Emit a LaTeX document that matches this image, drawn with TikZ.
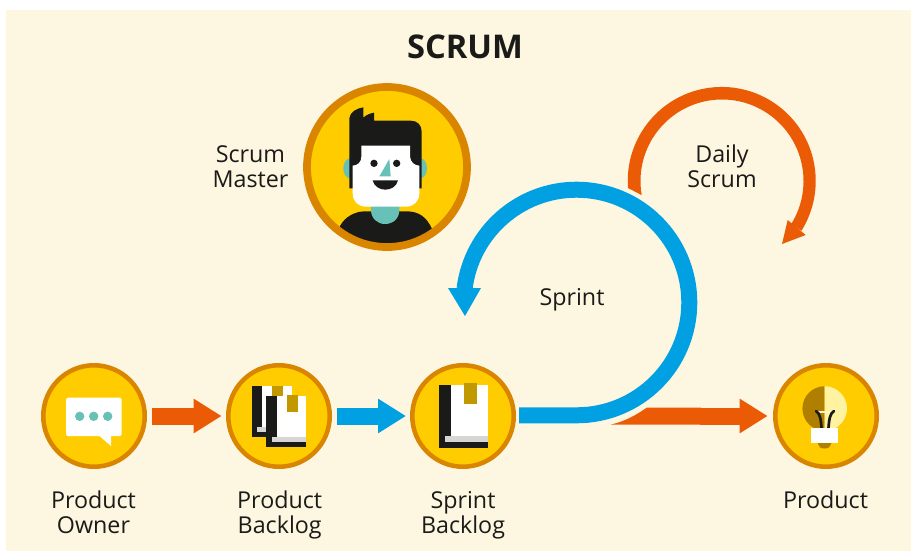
\documentclass[tikz,border=0pt]{standalone}
\usepackage{fontspec}
\setmainfont{Open Sans}
\usetikzlibrary{arrows.meta}
\definecolor{bgc}{HTML}{FDF6E1}
\definecolor{ringc}{HTML}{D98500}
\definecolor{yel}{HTML}{FFCC00}
\definecolor{org}{HTML}{EB5A05}
\definecolor{blu}{HTML}{00A0E3}
\definecolor{teal2}{HTML}{67C1B6}
\definecolor{ink}{HTML}{1A1A18}
\definecolor{gold}{HTML}{C29800}
\definecolor{grayb}{HTML}{D6D6D6}
\definecolor{bulbd}{HTML}{B07F00}
\definecolor{bulbl}{HTML}{FFF2A0}
\tikzset{
  badge/.style={circle,draw=ringc,fill=yel,line width=3.4pt,minimum size=76.1pt,inner sep=0pt},
  bigbadge/.style={circle,draw=ringc,line width=5.8pt,minimum size=120pt,inner sep=0pt},
  lbl/.style={text=ink,align=center,font=\fontsize{17.45}{18.75}\selectfont,inner sep=0pt},
  flow/.style={line width=12.75pt,-{Triangle[length=21pt,width=24.5pt]}}
}
\begin{document}
\begin{tikzpicture}[x=0.75pt,y=-0.75pt]
\useasboundingbox (0,0) rectangle (911,551);
\fill[bgc] (6,10) rectangle (911,551);

% Title and labels
\node[text=ink,inner sep=0pt,font=\fontsize{24.5}{28}\selectfont\bfseries] (title) at (465,47) {SCRUM};
\node[lbl] (lsm) at (250.5,167) {Scrum\\Master};
\node[lbl] (lds) at (722,166.5) {Daily\\Scrum};
\node[lbl] (lsp) at (572,300) {Sprint};
\node[lbl] (lpo) at (93.5,512) {Product\\Owner};
\node[lbl] (lpb) at (279.7,515) {Product\\Backlog};
\node[lbl] (lsb) at (463,515) {Sprint\\Backlog};
\node[lbl] (lp) at (825.5,500) {Product};

% Scrum master badge
\fill[yel] (387,167) circle[radius=80];
\begin{scope}
\clip (387,167) circle[radius=78];
\begin{scope}[shift={(300,75)},x=0.25pt,y=-0.25pt]
\fill[teal2] (150,280) ellipse[x radius=20,y radius=30];
\fill[teal2] (361,280) ellipse[x radius=20,y radius=30];
\fill[ink] (120,453) .. controls (135,425) and (165,409) .. (195,409) -- (320,409)
  .. controls (355,409) and (380,425) .. (396,462) -- (396,530) -- (120,530) -- cycle;
\fill[teal2] (213,390) -- (298,390) -- (298,405) .. controls (298,430) and (280,447) .. (255,447)
  .. controls (232,447) and (213,430) .. (213,405) -- cycle;
\fill[ink] (148,340) -- (148,130) .. controls (150,110) and (170,100) .. (190,97) -- (190,128)
  .. controls (198,120) and (210,115) .. (222,113) -- (222,137) -- (332,137)
  .. controls (352,137) and (365,150) .. (365,170) -- (365,340) -- cycle;
\fill[white] (184,212) -- (330,212) -- (330,245) .. controls (332,262) and (343,271) .. (358,272)
  -- (358,355) .. controls (358,380) and (340,395) .. (318,395) -- (198,395)
  .. controls (175,395) and (158,380) .. (158,355) -- (158,272)
  .. controls (173,271) and (184,262) .. (184,245) -- cycle;
\fill[ink] (222,265) circle[radius=11];
\fill[ink] (290,265) circle[radius=11];
\fill[teal2] (268,252) -- (238,304) -- (272,304) -- cycle;
\fill[ink] (218,316) -- (294,316) .. controls (290,335) and (272,344) .. (256,344)
  .. controls (240,344) and (222,335) .. (218,316) -- cycle;
\end{scope}
\end{scope}
\node[bigbadge] (sm) at (387,167) {};

% Daily scrum arc
\fill[org] (628,188) arc[start angle=175.7,end angle=392,radius=94]
  -- ({722+81.5*cos(392)},{181+81.5*sin(392)})
  arc[start angle=392,end angle=170,radius=81.5] -- cycle;
\fill[org] (787.7,220) -- (805.7,235) -- (782,244) -- cycle;

% Badges
\node[badge] (po) at (94,416) {};
\node[badge] (pb) at (279,416) {};
\node[badge] (sb) at (463,416) {};
\node[badge] (pr) at (826,416) {};

% Speech bubble
\fill[white,rounded corners=1.2pt] (66,397.7) rectangle (121.7,436);
\fill[white] (98.3,435) -- (111,435) -- (111,446) -- cycle;
\foreach \xx in {79.7,93.7,107.7} \fill[teal2] (\xx,416.3) circle[radius=4.7];

% Product backlog books
\fill[ink] (252,386) rectangle (270,437);
\fill[white] (262,386) rectangle (292,427);
\fill[grayb] (257,427) rectangle (270,432);
\fill[gold] (272,386) rectangle (283.3,396);
\fill[ink] (266,396) rectangle (277,447);
\fill[white] (277,396) rectangle (306,437);
\fill[grayb] (272,437) rectangle (306,442);
\fill[ink] (266,442) rectangle (306,447);
\fill[gold] (287,395) rectangle (298,412);

% Sprint backlog book
\fill[ink] (439,385) rectangle (451,448);
\fill[white] (451,385) rectangle (488,436);
\fill[grayb] (445,436) rectangle (488,442);
\fill[ink] (439,442) rectangle (488,448);
\fill[gold] (464,383) rectangle (477,404);

% Bulb
\fill[bulbd] (824.7,386.2) arc[start angle=-90,end angle=-270,radius=22.3] -- cycle;
\fill[bulbl] (824.7,386.2) arc[start angle=-90,end angle=90,radius=22.3] -- cycle;
\fill[bulbd] (818,443) -- (831,443) -- (831,444) .. controls (831,447) and (828,448.5) .. (824.5,448.5)
  .. controls (821,448.5) and (818,447) .. (818,444) -- cycle;
\draw[white!40!bulbl,line width=1.5pt] (818,411.5) -- (831,411.5);
\draw[ink,line width=2pt,line cap=round] (816,411) .. controls (820,413) and (821,420) .. (821.5,428);
\draw[ink,line width=2pt,line cap=round] (834,411) .. controls (830,413) and (829,420) .. (828.5,428);
\fill[white] (811,428) rectangle (838,443);

% Flow arrows
\draw[flow,org] ([xshift=3.75pt]po.east) -- ([xshift=-3.3pt]pb.west);
\draw[flow,blu] ([xshift=3.75pt]pb.east) -- ([xshift=-3pt]sb.west);
\coordinate (tailend) at (700,416);
\fill[org] (611,424.5) .. controls (625,421.5) and (637,414.5) .. (647,407.5) -- (701,407.5) -- (701,424.5) -- cycle;
\draw[flow,org] (tailend) -- ([xshift=-4pt]pr.west);

% Sprint loop
\draw[blu,line width=12pt] ([shift={(2.25pt,0.5pt)}]sb.east) -- (576.5,415.3)
  arc[start angle=90,end angle=-173,radius=112.8];
\fill[blu] (448,288) -- (481,288) -- (465,316) -- cycle;
\end{tikzpicture}
\end{document}
